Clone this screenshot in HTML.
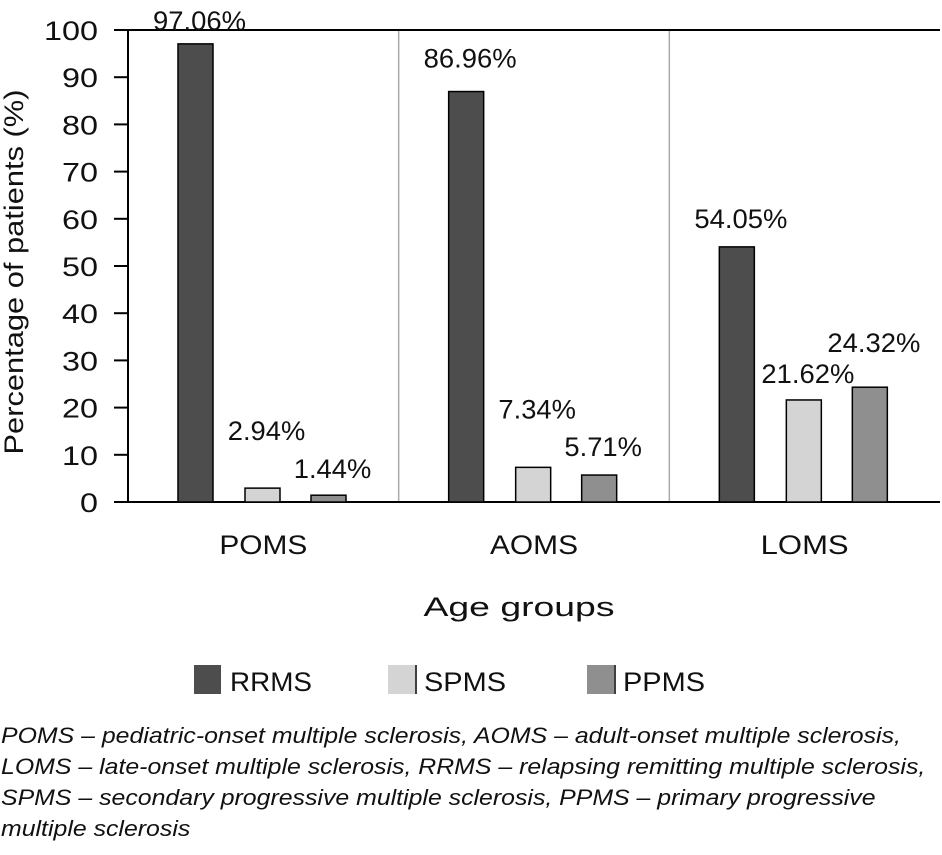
<!DOCTYPE html>
<html><head><meta charset="utf-8"><style>
body{margin:0;background:#fff;width:942px;height:855px;overflow:hidden;font-family:"Liberation Sans",sans-serif;}
svg text{font-family:"Liberation Sans",sans-serif;fill:#111;}
.note{position:absolute;left:1px;top:720px;width:800px;font-style:italic;font-size:22px;line-height:31px;color:#111;white-space:nowrap;transform:scaleX(1.13);transform-origin:0 0;}
</style></head><body>
<svg width="942" height="720" style="position:absolute;left:0;top:0">
<g id="g"></g>
</svg>
<div class="note">POMS – pediatric-onset multiple sclerosis, AOMS – adult-onset multiple sclerosis,<br>LOMS – late-onset multiple sclerosis, RRMS – relapsing remitting multiple sclerosis,<br>SPMS – secondary progressive multiple sclerosis, PPMS – primary progressive<br>multiple sclerosis</div>
<script>
const categories=["POMS","AOMS","LOMS"];
const seriesNames=["RRMS","SPMS","PPMS"];
const rrms=[97.06,86.96,54.05];
const spms=[2.94,7.34,21.62];
const ppms=[1.44,5.71,24.32];
const yTicks=[0,10,20,30,40,50,60,70,80,90,100];
const series=[rrms,spms,ppms];
const colors=["#4d4d4d","#d4d4d4","#8f8f8f"];
const labelGap=[[14,48,17],[24,49,19],[19,17,35]];
const NS="http://www.w3.org/2000/svg";
const g=document.getElementById('g');
const x0=128,x1=940,y0=502,y100=30;
const y=v=>y0-(v/100)*(y0-y100);
const gw=(x1-x0)/3;
function mk(t,a,p){const e=document.createElementNS(NS,t);for(const k in a)e.setAttribute(k,a[k]);(p||g).appendChild(e);return e;}
for(let i=1;i<3;i++){const s=mk('line',{x1:x0+gw*i,x2:x0+gw*i,y1:y100,y2:y0,stroke:'#aaa','stroke-width':1.5});

}
const tl=mk('line',{x1:x0-14,x2:x1,y1:y100,y2:y100,stroke:'#000','stroke-width':2});


const ya=mk('line',{x1:x0,x2:x0,y1:y100,y2:y0,stroke:'#000','stroke-width':2});


const xa=mk('line',{x1:x0-14,x2:x1,y1:y0,y2:y0,stroke:'#000','stroke-width':2});


yTicks.forEach(v=>{
 const t=mk('line',{x1:x0-14,x2:x0,y1:y(v),y2:y(v),stroke:'#000','stroke-width':2});
 
 
 const s=String(v);
 const l=mk('text',{x:x0-30,y:y(v)+10,'text-anchor':'end','font-size':27,textLength:s.length*18,lengthAdjust:'spacingAndGlyphs'});
 l.textContent=s;
 
 
});
const bw=35,offs=[-35,32,98];
categories.forEach((c,i)=>{
 const cx=x0+gw*i+gw/2;
 series.forEach((s,j)=>{
  const bx=x0+gw*i+50+offs[j]+35;
  const v=s[i];
  const r=mk('rect',{x:bx,y:y(v),width:bw,height:y0-y(v),fill:colors[j],stroke:'#000','stroke-width':1.5});
  
  
  const txt=v.toFixed(2)+'%';
  const t=mk('text',{x:bx+bw/2+4,y:y(v)-labelGap[i][j],'text-anchor':'middle','font-size':27,textLength:txt.length*15.5,lengthAdjust:'spacingAndGlyphs'});
  t.textContent=txt;
  
  
 });
 const cl=mk('text',{x:cx,y:554,'text-anchor':'middle','font-size':27,textLength:88,lengthAdjust:'spacingAndGlyphs'});
 cl.textContent=c;
 
 
});
const xt=mk('text',{x:519,y:616,'text-anchor':'middle','font-size':27,textLength:191,lengthAdjust:'spacingAndGlyphs'});
xt.textContent='Age groups';


const yt=mk('text',{x:0,y:0,'text-anchor':'middle','font-size':27,textLength:365,lengthAdjust:'spacingAndGlyphs',transform:'translate(23,272) rotate(-90)'});
yt.textContent='Percentage of patients (%)';


const lx=[194,388,587];
seriesNames.forEach((n,j)=>{
 const r=mk('rect',{x:lx[j],y:665,width:27,height:29,fill:colors[j]});
 
 
 if(j>0){const ln=mk('line',{x1:lx[j]+28,x2:lx[j]+28,y1:665,y2:694,stroke:'#000','stroke-width':1.5});
 
 }
 const t=mk('text',{x:lx[j]+36,y:691,'font-size':27,textLength:82,lengthAdjust:'spacingAndGlyphs'});
 t.textContent=n;
 
 
});
</script>
</body></html>
